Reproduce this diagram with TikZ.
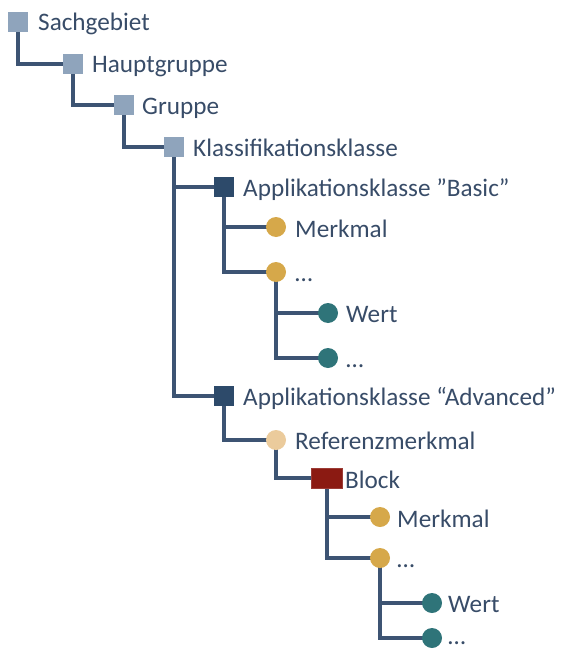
\documentclass[tikz,border=0pt]{standalone}
\usepackage{fontspec}
\setmainfont{Carlito}
\usetikzlibrary{backgrounds}
\definecolor{sqlight}{HTML}{8FA4BC}
\definecolor{navy}{HTML}{2D4A6A}
\definecolor{gold}{HTML}{D6A84A}
\definecolor{tealc}{HTML}{2F7479}
\definecolor{tan}{HTML}{EBCB9C}
\definecolor{blockred}{HTML}{8B1A12}
\definecolor{txt}{HTML}{384C68}
\definecolor{linec}{HTML}{3D5473}
\tikzset{
  sqbox/.style={rectangle, minimum width=19.5pt, minimum height=19.5pt, inner sep=0pt, draw=none, fill=#1},
  dotc/.style={circle, minimum size=20pt, inner sep=0pt, draw=none, fill=#1},
  lbl/.style={anchor=base west, inner sep=0pt, text=txt, font=\fontsize{25.2}{28}\selectfont},
  conn/.style={draw=linec, line width=3.1pt},
}
\begin{document}
\begin{tikzpicture}[x=1pt,y=-1pt]
\useasboundingbox (0,0) rectangle (560,650);
% shapes
\node[sqbox=sqlight] (sach) at (18,22) {};
\node[sqbox=sqlight] (haupt) at (73,64) {};
\node[sqbox=sqlight] (grp) at (124,105) {};
\node[sqbox=sqlight] (klass) at (174,147) {};
\node[sqbox=navy] (basic) at (224,187) {};
\node[dotc=gold] (merk1) at (276,227) {};
\node[dotc=gold] (dots1) at (276,272) {};
\node[dotc=tealc] (wert1) at (328,313) {};
\node[dotc=tealc] (wdots1) at (328,358) {};
\node[sqbox=navy] (adv) at (224,396) {};
\node[dotc=tan] (ref) at (276,440) {};
\node[rectangle, minimum width=31pt, minimum height=20pt, inner sep=0pt, fill=blockred, draw=blockred!85!white, line width=0.8pt] (block) at (327,478) {};
\node[dotc=gold] (merk2) at (380,517) {};
\node[dotc=gold] (dots2) at (380,558) {};
\node[dotc=tealc] (wert2) at (432,603) {};
\node[dotc=tealc] (wdots2) at (432,638) {};
% labels
\node[lbl] (sach-t) at (38,31) {Sachgebiet};
\node[lbl] (haupt-t) at (92,73) {Hauptgruppe};
\node[lbl] (grp-t) at (142,114) {Gruppe};
\node[lbl] (klass-t) at (193,156) {Klassifikationsklasse};
\node[lbl] (basic-t) at (243,196) {Applikationsklasse ”Basic”};
\node[lbl] (merk1-t) at (295,237) {Merkmal};
\node[lbl] (dots1-t) at (295,281) {…};
\node[lbl] (wert1-t) at (346,322) {Wert};
\node[lbl] (wdots1-t) at (346,367) {…};
\node[lbl] (adv-t) at (243,405) {Applikationsklasse “Advanced”};
\node[lbl] (ref-t) at (295,449) {Referenzmerkmal};
\node[lbl] (block-t) at (345,488) {Block};
\node[lbl] (merk2-t) at (397,527) {Merkmal};
\node[lbl] (dots2-t) at (397,567) {…};
\node[lbl] (wert2-t) at (448,612) {Wert};
\node[lbl] (wdots2-t) at (448,644) {…};
% connectors
\begin{pgfonlayer}{background}
\draw[conn] (sach.center) |- (haupt.center);
\draw[conn] (haupt.center) |- (grp.center);
\draw[conn] (grp.center) |- (klass.center);
\draw[conn] (klass.center) |- (basic.center);
\draw[conn] (klass.center) |- (adv.center);
\draw[conn] (basic.center) |- (merk1.center);
\draw[conn] (basic.center) |- (dots1.center);
\draw[conn] (dots1.center) |- (wert1.center);
\draw[conn] (dots1.center) |- (wdots1.center);
\draw[conn] (adv.center) |- (ref.center);
\draw[conn] (ref.center) |- (block.center);
\draw[conn] (block.center) |- (merk2.center);
\draw[conn] (block.center) |- (dots2.center);
\draw[conn] (dots2.center) |- (wert2.center);
\draw[conn] (dots2.center) |- (wdots2.center);
\end{pgfonlayer}
\end{tikzpicture}
\end{document}
